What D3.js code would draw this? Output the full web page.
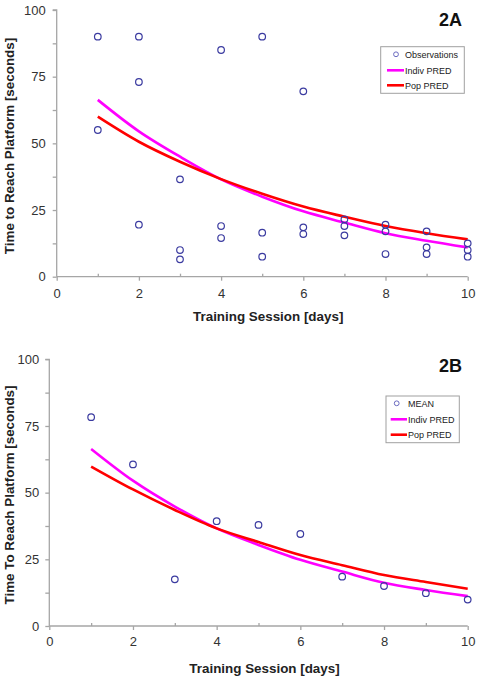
<!DOCTYPE html>
<html><head><meta charset="utf-8">
<script src="https://cdn.jsdelivr.net/npm/d3@7"></script>
<style>body{margin:0;background:#fff}svg{display:block;font-family:"Liberation Sans",Arial,sans-serif}</style>
</head><body>
<svg id="c" width="479" height="680"></svg>
<script>
const days = [1,2,3,4,5,6,7,8,9,10];
const obsDays = [1,1,2,2,2,3,3,3,4,4,4,5,5,5,6,6,6,7,7,7,8,8,8,9,9,9,10,10,10];
const obsVals = [90,55,90,73,19.5,36.5,10,6.5,85,19,14.5,90,16.5,7.5,69.5,18.5,16,21.5,19,15.5,19.5,17,8.5,17,11,8.5,12.5,10,7.5];
const indivA = [66.3,54.5,45,36.5,30,24.5,20.3,16.3,13.5,11];
const popA = [60,50.6,43.1,36.6,31.1,26.3,22.5,19,16.3,14];
const meanVals = [78.3,60.6,17.5,39.3,37.9,34.5,18.5,15,12.3,9.9];
const indivB = [66.4,54.5,44.8,36.6,30.4,24.8,20.4,16.2,13.5,11.2];
const popB = [59.8,51.2,43.5,36.6,31.5,26.6,22.8,19.1,16.5,14];
const xTicks = [0,2,4,6,8,10];
const yTicks = [0,25,50,75,100];

const svg = d3.select("#c");
const markColor = "#3b3ba0";

function panel(o){
  const x = d3.scaleLinear().domain([0,10]).range([o.x0,o.x1]);
  const y = d3.scaleLinear().domain([0,100]).range([o.y0,o.y1]);
  const g = svg.append("g");
  const axisColor = "#a6a6a6";
  const ya = g.append("g").attr("transform",`translate(${o.x0},0)`)
    .call(d3.axisLeft(y).tickValues(d3.range(0,101,12.5)).tickSize(4).tickFormat(d=>yTicks.includes(d)?d:""));
  ya.select(".domain").attr("stroke",axisColor).attr("stroke-width",1.3).attr("d",`M-4,${o.y1}H0V${o.y0}`);
  ya.selectAll(".tick line").attr("stroke",axisColor).attr("stroke-width",1.3);
  ya.selectAll(".tick text").attr("font-size",13).attr("fill","#333").attr("x",-o.ygap).attr("font-family","Liberation Sans, Arial, sans-serif");
  const xa = g.append("g").attr("transform",`translate(0,${o.y0})`)
    .call(d3.axisBottom(x).tickValues(d3.range(0,11,1)).tickSize(4).tickFormat(d=>xTicks.includes(d)?d:""));
  xa.select(".domain").attr("stroke",axisColor).attr("stroke-width",1.3).attr("d",`M${o.x0},0H${o.x1}`);
  xa.selectAll(".tick line").attr("stroke",axisColor).attr("stroke-width",1.3)
    .attr("y1",d=>xTicks.includes(d)?0:-3).attr("y2",d=>xTicks.includes(d)?4:0);
  xa.selectAll(".tick text").attr("font-size",13).attr("fill","#333").attr("y",o.xgap).attr("dy","0").attr("font-family","Liberation Sans, Arial, sans-serif");
  const line = (vals)=>d3.line().x((d,i)=>x(days[i])).y(d=>y(d)).curve(d3.curveCatmullRom.alpha(0.5))(vals);
  g.append("path").attr("d",line(o.indiv)).attr("fill","none").attr("stroke","#ff00ff").attr("stroke-width",2.6);
  g.append("path").attr("d",line(o.pop)).attr("fill","none").attr("stroke","#ff0000").attr("stroke-width",2.6);
  g.selectAll("circle.pt").data(o.pts).join("circle").attr("class","pt")
    .attr("cx",d=>x(d[0])).attr("cy",d=>y(d[1])).attr("r",3.3)
    .attr("fill","none").attr("stroke",markColor).attr("stroke-width",1.2);
  g.append("text").attr("x",(o.x0+o.x1)/2+6).attr("y",o.xtY).attr("text-anchor","middle")
    .attr("font-weight","bold").attr("font-size",13.4).attr("fill","#222").text("Training Session [days]");
  g.append("text").attr("transform",`translate(${o.ytX},${o.ytY}) rotate(-90)`).attr("text-anchor","middle")
    .attr("font-weight","bold").attr("font-size",13.4).attr("fill","#222").text(o.ytitle);
  g.append("text").attr("x",462).attr("y",o.labY).attr("text-anchor","end")
    .attr("font-weight","bold").attr("font-size",18).attr("fill","#111").attr("font-family","Liberation Sans, Arial, sans-serif").text(o.label);
  const L = o.leg;
  g.append("rect").attr("x",L.x).attr("y",L.y).attr("width",L.w).attr("height",L.h)
    .attr("fill","#fff").attr("stroke","#a0a0a0").attr("stroke-width",1);
  const items = [[o.first,"c"],["Indiv PRED","#ff00ff"],["Pop PRED","#ff0000"]];
  items.forEach((it,i)=>{
    const cy = L.rows[i];
    if(it[1]==="c"){
      g.append("circle").attr("cx",L.cx).attr("cy",cy).attr("r",2.4).attr("fill","none").attr("stroke","#6a6ac0").attr("stroke-width",1);
    } else {
      g.append("line").attr("x1",L.lx0).attr("x2",L.lx1).attr("y1",cy).attr("y2",cy).attr("stroke",it[1]).attr("stroke-width",2.6);
    }
    g.append("text").attr("x",L.tx).attr("y",cy+3.2).attr("font-size",9).attr("fill","#222").text(it[0]);
  });
}

panel({x0:56.7,x1:467.7,y0:276.7,y1:10,ygap:11,xgap:21,xtY:321,ytX:14,ytY:146,
  ytitle:"Time to Reach Platform [seconds]",label:"2A",labY:26,
  indiv:indivA,pop:popA,pts:obsDays.map((d,i)=>[d,obsVals[i]]),first:"Observations",
  leg:{x:380.7,y:46.7,w:83.6,h:46.6,rows:[54.3,70.3,85.3],cx:396,lx0:387,lx1:404,tx:405}});
panel({x0:49.3,x1:467.7,y0:626,y1:359.3,ygap:10,xgap:19.5,xtY:673,ytX:14,ytY:495,
  ytitle:"Time To Reach Platform [seconds]",label:"2B",labY:372,
  indiv:indivB,pop:popB,pts:days.map((d,i)=>[d,meanVals[i]]),first:"MEAN",
  leg:{x:386,y:396,w:73.3,h:46.7,rows:[403.3,419.3,434.7],cx:396.7,lx0:390.7,lx1:407,tx:408}});
</script>
</body></html>
